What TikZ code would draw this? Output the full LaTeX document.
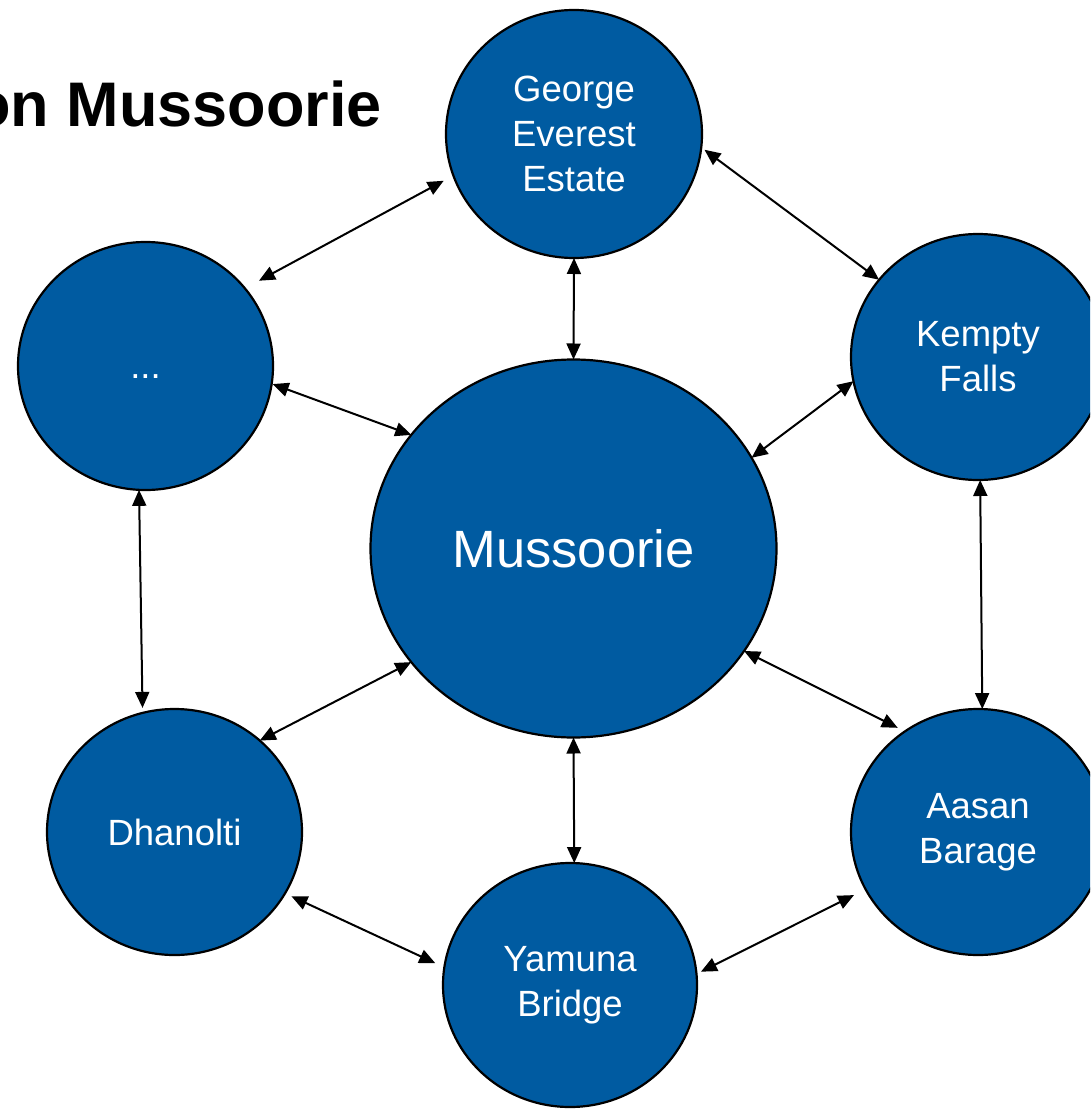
\documentclass[tikz,border=0pt]{standalone}
\usepackage{fontspec}
\setmainfont{Liberation Sans}
\usetikzlibrary{arrows.meta,shapes.geometric}
\definecolor{nodeblue}{RGB}{0,91,161}
\begin{document}
\begin{tikzpicture}[x=1pt,y=-1pt,
  place/.style={ellipse, draw=black, line width=2.2pt, fill=nodeblue, text=white,
    inner sep=0pt, outer sep=0pt, align=center, font=\fontsize{36.5}{45}\selectfont},
  link/.style={{Triangle[length=16pt,width=14pt]}-{Triangle[length=16pt,width=14pt]},
    line width=2pt, draw=black},
  titletext/.style={anchor=base east, inner sep=0pt, font=\fontsize{63}{75}\selectfont\bfseries}]
\clip (0,0) rectangle (1090,1110);
\fill[white] (0,0) rectangle (1090,1110);
\node[titletext] (title) at (382,127) {on Mussoorie};
\node[place, minimum width=256pt, minimum height=248pt] (g) at (574,134) {George\\Everest\\Estate};
\node[place, minimum width=255pt, minimum height=248pt] (dots) at (145.5,366) {\raisebox{-12pt}[0pt][0pt]{...}};
\node[place, minimum width=254pt, minimum height=246pt] (k) at (978,357) {Kempty\\Falls};
\node[place, minimum width=406pt, minimum height=378pt, font=\fontsize{52.5}{60}\selectfont] (m) at (573.5,548.5) {Mussoorie};
\node[place, minimum width=255pt, minimum height=246pt] (dh) at (174.5,832) {Dhanolti};
\node[place, minimum width=254pt, minimum height=244pt] (y) at (570,985) {Yamuna\\Bridge};
\node[place, minimum width=254pt, minimum height=246pt] (a) at (978,832) {Aasan\\Barage};
\draw[link, shorten <=11pt, shorten >=16pt] (g.199.2) -- (dots.38.4);
\draw[link, shorten <=4pt] (g.354.3) -- (k.142.7);
\draw[link] (g.270) -- (m.90);
\draw[link, shorten <=1pt] (dots.352) -- (m.145.4);
\draw[link] (k.191.6) -- (m.27.1);
\draw[link, shorten >=5pt] (dots.267.4) -- (dh.105.4);
\draw[link] (k.271.8) -- (a.88.2);
\draw[link] (m.215.6) -- (dh.47.1);
\draw[link, shorten >=8pt] (m.329.8) -- (a.126.8);
\draw[link] (m.270) -- (y.88.2);
\draw[link, shorten <=7pt, shorten >=10pt] (dh.331.6) -- (y.172.9);
\draw[link, shorten <=13pt, shorten >=5pt] (a.207.1) -- (y.5.6);
\end{tikzpicture}
\end{document}
